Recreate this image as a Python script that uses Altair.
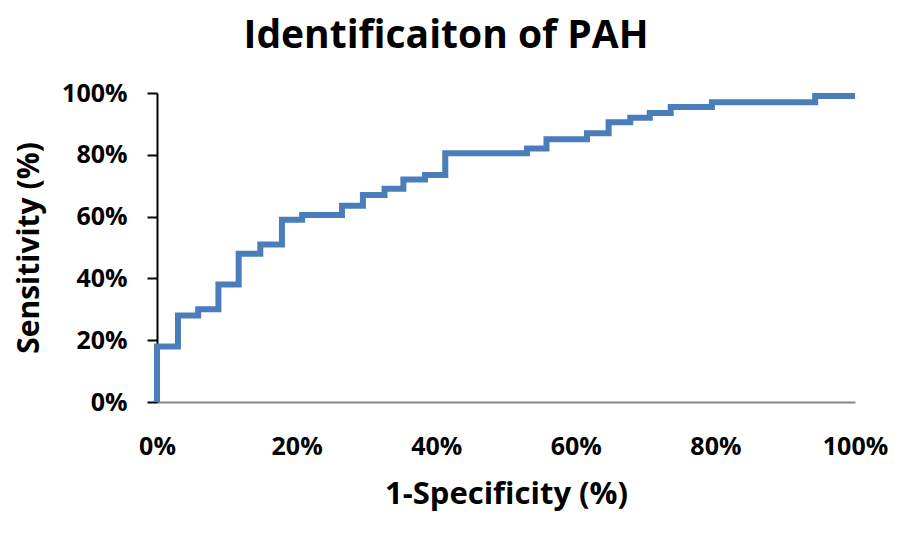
import altair as alt
import pandas as pd

# ROC curve step points (1-specificity, sensitivity)
fpr = [0.0, 0.0, 0.030, 0.059, 0.088, 0.117, 0.148, 0.179, 0.208, 0.265, 0.295,
       0.326, 0.353, 0.384, 0.413, 0.530, 0.558, 0.616, 0.647, 0.678, 0.706,
       0.736, 0.795, 0.943, 1.0]
sens = [0.0, 0.18, 0.28, 0.30, 0.38, 0.48, 0.51, 0.59, 0.605, 0.635, 0.67,
        0.69, 0.72, 0.735, 0.805, 0.82, 0.85, 0.87, 0.905, 0.92, 0.935,
        0.955, 0.97, 0.99, 0.99]
tick_values = [0.0, 0.2, 0.4, 0.6, 0.8, 1.0]

df = pd.DataFrame({"fpr": fpr, "sens": sens, "order": list(range(len(fpr)))})

FONT = "Open Sans"

chart = alt.Chart(df).mark_line(
    interpolate="step-after", color="#4A7EBB", strokeWidth=6, strokeJoin="miter"
).encode(
    x=alt.X("fpr:Q", scale=alt.Scale(domain=[0, 1], nice=False),
            axis=alt.Axis(values=tick_values, format=".0%", title="1-Specificity (%)",
                          grid=False, ticks=False, tickSize=0, labelPadding=32,
                          domainColor="#868686", domainWidth=2,
                          labelFontSize=25, labelFont=FONT, labelFontWeight="bold",
                          labelColor="black", titleFontSize=31, titleFont=FONT,
                          titleFontWeight="bold", titleColor="black", titlePadding=20,
                          labelFlush=False)),
    y=alt.Y("sens:Q", scale=alt.Scale(domain=[0, 1], nice=False),
            axis=alt.Axis(values=tick_values, format=".0%", title="Sensitivity (%)",
                          grid=False, ticks=True, tickSize=10, tickColor="black",
                          tickWidth=2, domainColor="black", domainWidth=2,
                          labelPadding=20, labelFontSize=25, labelFont=FONT,
                          labelFontWeight="bold", labelColor="black",
                          titleFontSize=30, titleFont=FONT, titleFontWeight="bold",
                          titleColor="black", titlePadding=17, labelFlush=False)),
    order="order:Q",
).properties(
    width=698,
    height=309,
    title=alt.TitleParams("Identificaiton of PAH", fontSize=39, font=FONT,
                          fontWeight="bold", color="black", anchor="middle",
                          frame="group", dx=-60, offset=25),
    autosize=alt.AutoSizeParams(type="none"),
    padding={"left": 149, "top": 85, "right": 35, "bottom": 130},
).configure_view(stroke=None)

chart.save("out.html", embed_options={"renderer": "svg", "actions": False})
